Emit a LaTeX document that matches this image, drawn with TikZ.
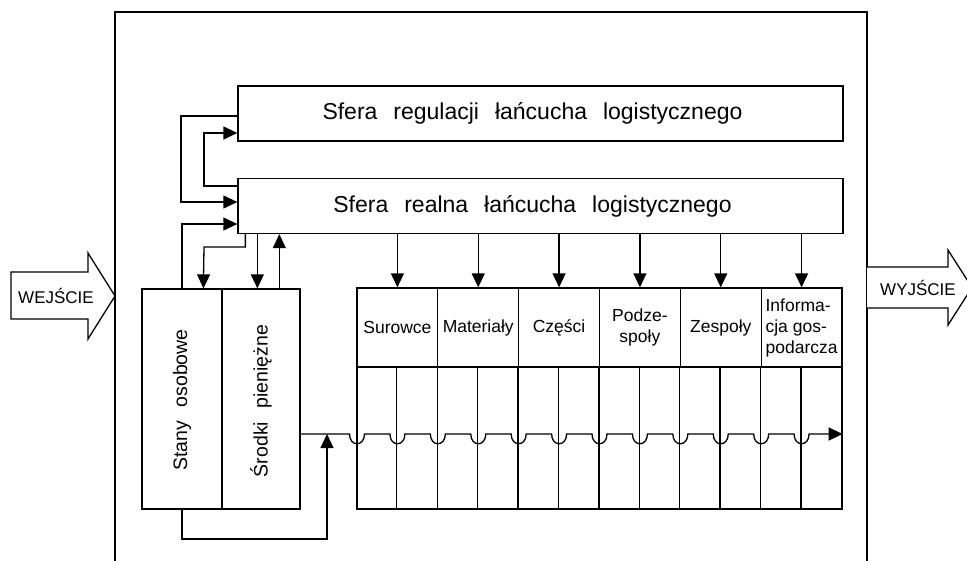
\documentclass[tikz,border=0pt]{standalone}
\usepackage{fontspec}
\setmainfont{Liberation Sans}
\newfontfamily\widefont[WordSpace=2.5]{Liberation Sans}
\usetikzlibrary{arrows.meta}
\begin{document}
\begin{tikzpicture}[x=1pt,y=-1pt,line width=1.3pt,
  arr/.style={-{Triangle[length=14pt,width=13pt]}},
  bigbox/.style={draw,minimum width=605pt,minimum height=55pt,inner sep=0pt,font={\widefont\fontsize{23}{27}\selectfont}},
  sidebox/.style={draw,minimum height=220pt,inner sep=0pt},
  sidetext/.style={rotate=90,inner sep=0pt,font={\widefont\fontsize{19.5}{23}\selectfont}},
  headcell/.style={draw,minimum width=80.833pt,minimum height=79pt,inner sep=0pt,font={\fontsize{17.5}{21}\selectfont}},
  blocklabel/.style={inner sep=0pt,font={\fontsize{17}{20}\selectfont}}]
\useasboundingbox (0,0) rectangle (967,560);
\clip (0,0) rectangle (967,560);
% outer frame
\draw (115,565) -- (115,12) -- (867,12) -- (867,565);
% input / output block arrows
\draw[fill=white] (11,272) -- (88,272) -- (88,253) -- (115,296) -- (88,339) -- (88,319) -- (11,319) -- cycle;
\node[blocklabel] (we) at (56,296) {WEJŚCIE};
\draw[fill=white] (867,267) -- (948,267) -- (948,250) -- (972,287.5) -- (948,325) -- (948,308) -- (867,308);
\node[blocklabel] (wy) at (918,288) {WYJŚCIE};
% main boxes
\node[bigbox] (reg) at (540.5,113.5) {\hspace*{-16pt}Sfera regulacji łańcucha logistycznego};
\node[bigbox] (real) at (540.5,206) {\hspace*{-16pt}Sfera realna łańcucha logistycznego};
% side boxes
\node[sidebox,minimum width=80pt] (stany) at (182,399) {};
\node[sidebox,minimum width=78pt] (srodki) at (261,399) {};
\node[sidetext] (stanyt) at (182,400) {Stany osobowe};
\node[sidetext] (srodkit) at (261,401) {Środki pieniężne};
% table header
\node[headcell] (h1) at (397.42,327.5) {Surowce};
\node[headcell] (h2) at (478.25,327.5) {Materiały};
\node[headcell] (h3) at (559.08,327.5) {Części};
\node[headcell,align=center] (h4) at (639.92,327.5) {Podze-\\społy};
\node[headcell] (h5) at (720.75,327.5) {Zespoły};
\node[headcell,align=left] (h6) at (801.58,327.5) {Informa-\\cja gos-\\podarcza};
% table body
\node[draw,minimum width=485pt,minimum height=142pt,inner sep=0pt] (body) at (599.5,438) {};
\foreach \k in {1,...,11}
  \draw ([xshift=\k*40.4167pt]body.north west) -- ([xshift=\k*40.4167pt]body.south west);
% arrows from real sphere to table
\foreach \h in {h1,h2,h3,h4,h5,h6}
  \draw[arr] (real.south -| \h) -- (\h.north);
% left feedback connectors
\draw[arr] ([yshift=-2.5pt]reg.west) -| (181,202) -- ([yshift=4pt]real.west);
\draw[arr] ([yshift=20pt]real.west) -| (204,133) -- ([yshift=-19.5pt]reg.west);
\draw[arr] (stany.north) |- ([yshift=-18pt]real.west);
\draw[arr] ([xshift=8pt]real.south west) |- (204,247) -- ([xshift=62pt]stany.north west);
\draw[arr] ([xshift=20pt]real.south west) -- ([xshift=36pt]srodki.north west);
\draw[arr] ([xshift=58pt]srodki.north west) -- ([xshift=42pt]real.south west);
% bottom loop
\coordinate (merge) at (327,434);
\draw[arr] (stany.south) |- (327,539) -- (merge);
% flow line with bridges
\draw[arr] (srodki.east |- merge)
  foreach \k [evaluate=\k as \xx using 357+\k*40.4167] in {0,...,11} {
    -- ({\xx-7.5},434) .. controls ({\xx-7.5},447) and ({\xx+7.5},447) .. ({\xx+7.5},434)
  } -- (body.east |- merge);
\end{tikzpicture}
\end{document}
